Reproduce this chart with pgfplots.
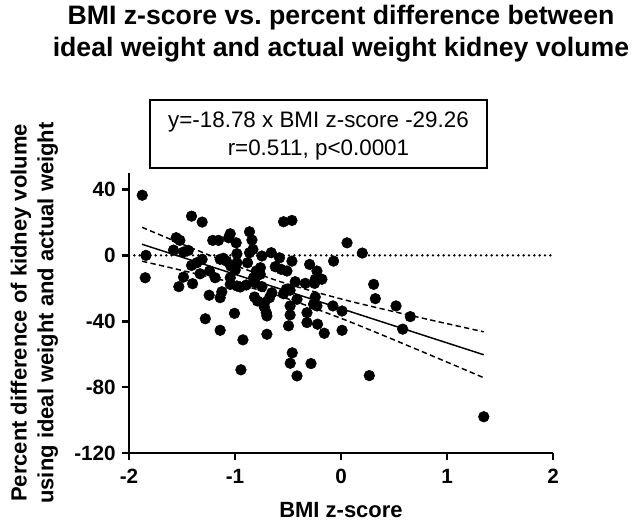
\documentclass[border=0pt]{standalone}
\usepackage{pgfplots}
\pgfplotsset{compat=1.18}
\usepackage{fontspec}
\setmainfont{Liberation Sans}
\frenchspacing
\pgfplotstableread{
x y
-1.875 36.5
-1.84 0.0
-1.847 -13.6
-1.41 23.8
-1.31 20.2
-1.555 10.7
-1.52 9.1
-1.58 3.2
-1.486 2.0
-1.44 3.0
-1.41 -6.1
-1.36 -4.5
-1.31 -2.4
-1.33 -11.2
-1.486 -13.2
-1.53 -19.0
-1.40 -17.2
-1.24 -9.5
-1.187 -13.6
-1.244 -24.2
-1.14 -25.7
-1.124 -22.1
-1.28 -38.5
-1.14 -45.5
-1.21 9.1
-1.156 9.1
-1.06 10.7
-1.045 13.1
-0.989 7.6
-1.11 -1.8
-0.982 1.0
-1.08 -3.5
-1.04 -6.5
-0.998 -8.9
-1.045 -13.6
-1.045 -17.6
-0.982 -18.6
-0.951 -19.2
-0.894 -18.0
-0.863 14.3
-0.84 9.3
-0.831 3.6
-0.863 1.6
-0.882 -4.5
-0.80 -9.5
-0.825 -13.6
-0.81 -16.6
-0.746 -0.4
-0.76 -7.5
-0.746 -19.0
-0.816 -25.3
-0.788 -27.7
-0.721 -28.7
-0.674 -25.7
-0.652 -22.7
-0.724 -31.3
-0.705 -34.8
-0.699 -36.8
-1.005 -35.2
-0.658 1.6
-0.58 -1.5
-0.62 -6.9
-0.564 -8.5
-0.51 -9.5
-0.542 20.4
-0.463 21.2
-0.463 -3.5
-0.516 -20.6
-0.48 -21.2
-0.432 -16.0
-0.337 -17.0
-0.296 -5.5
-0.227 -9.5
-0.18 -14.5
-0.243 -14.5
-0.07 -3.5
-0.415 -26.7
-0.48 -30.7
-0.48 -36.2
-0.495 -42.8
-0.321 -34.8
-0.227 -30.7
-0.321 -40.8
-0.221 -41.8
-0.076 -30.7
0.057 7.6
0.201 1.4
0.308 -17.6
0.324 -26.3
0.01 -33.8
0.519 -30.7
0.654 -37.2
0.582 -44.8
0.01 -45.5
-0.158 -47.3
-0.699 -47.9
-0.925 -51.3
-0.46 -59.2
-0.479 -65.5
-0.283 -65.7
-0.944 -69.5
-0.415 -73.2
0.267 -73.0
1.347 -98.0
-0.249 -17.0
-0.542 -23.3
-0.243 -25.3
-0.259 -29.7
-0.762 -11.5
-0.982 -4.5
-1.14 -2.4
}\points
\pgfplotstableread{
x y
-1.877 6.74
1.347 -60.36
}\fitline
\pgfplotstableread{
x y
-1.877 17.04
-1.5 6.86
-1.0 -6.07
-0.547 -16.49
0.0 -26.46
0.5 -34.18
1.0 -41.47
1.347 -46.41
}\upperband
\pgfplotstableread{
x y
-1.877 -3.56
-1.5 -9.14
-1.0 -17.01
-0.547 -25.43
0.0 -38.22
0.5 -51.30
1.0 -64.81
1.347 -74.31
}\lowerband
\pgfplotstableread{
x y
-2 0
2 0
}\zeroline
\begin{document}
\begin{tikzpicture}
\path[use as bounding box] (-96.75pt,-54.75pt) rectangle (377.25pt,339.75pt);
\begin{axis}[
  scale only axis,
  width=318pt, height=210pt,
  xmin=-2, xmax=2, ymin=-120, ymax=50,
  axis x line*=bottom, axis y line*=left,
  axis line style={line width=2pt, -},
  every outer x axis line/.append style={line width=2pt},
  every outer y axis line/.append style={line width=2pt},
  xtick={-2,-1,0,1,2}, xticklabels={-2,-1,0,1,2},
  ytick={-120,-80,-40,0,40}, yticklabels={-120,-80,-40,0,40},
  tick align=outside, major tick length=5.5pt,
  every tick/.style={line width=2pt, black},
  ticklabel style={font=\bfseries\fontsize{15.5}{18}\selectfont},
  xticklabel style={yshift=-3pt},
  yticklabel style={xshift=-1pt},
  clip=false,
]
\addplot[black, line width=2pt, line cap=round, dash pattern=on 0pt off 4pt] table {\zeroline};
\addplot[black, line width=1.1pt] table {\fitline};
\addplot[black, line width=1.1pt, dash pattern=on 4pt off 2.5pt, smooth] table {\upperband};
\addplot[black, line width=1.1pt, dash pattern=on 4pt off 2.5pt, smooth] table {\lowerband};
\addplot[only marks, mark=*, mark size=4pt, black] table {\points};
\end{axis}
\node[font=\bfseries\fontsize{20}{24}\selectfont] at (159pt,326.25pt) {BMI z-score vs. percent difference between};
\node[font=\bfseries\fontsize{20}{24}\selectfont] at (159pt,302.25pt) {ideal weight and actual weight kidney volume};
\draw[line width=1.5pt] (15.75pt,213.75pt) rectangle (268.5pt,264.75pt);
\node[font=\fontsize{16.8}{19}\selectfont] at (142.1pt,248.25pt) {y=-18.78 x BMI z-score -29.26};
\node[font=\fontsize{16.8}{19}\selectfont] at (142.1pt,227.25pt) {r=0.511, p<0.0001};
\node[font=\bfseries\fontsize{16.5}{19}\selectfont, rotate=90] at (-81pt,105pt) {Percent difference of kidney volume};
\node[font=\bfseries\fontsize{16.5}{19}\selectfont, rotate=90] at (-61pt,105pt) {using ideal weight and actual weight};
\node[font=\bfseries\fontsize{16.5}{19}\selectfont] at (159pt,-42.75pt) {BMI z-score};
\end{tikzpicture}
\end{document}
